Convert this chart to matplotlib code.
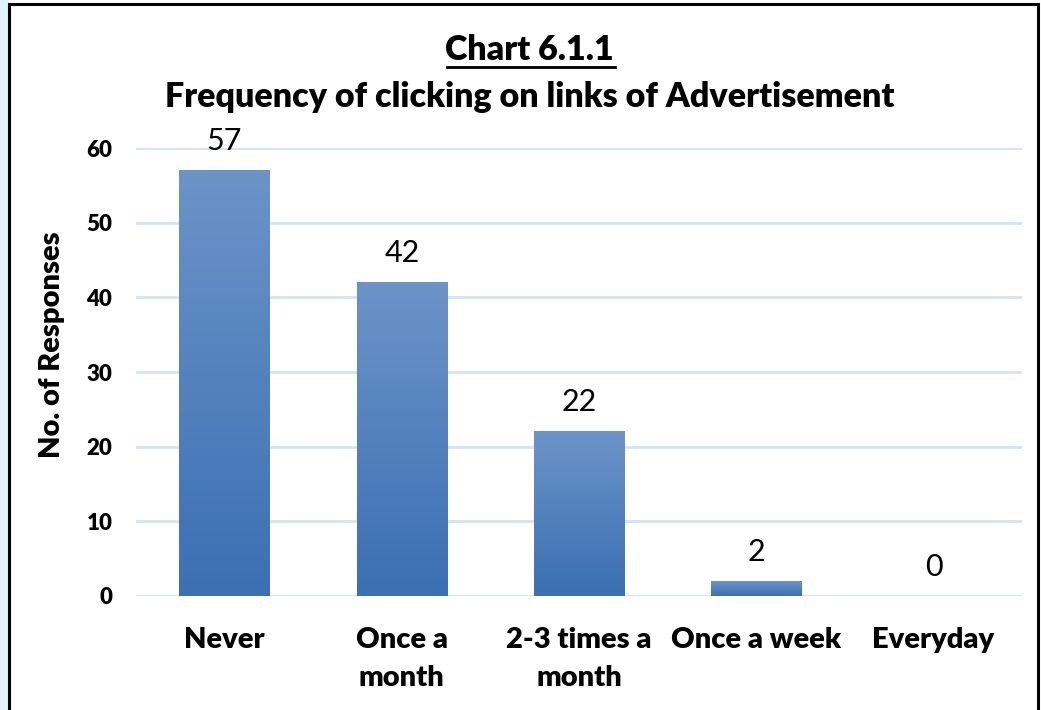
import numpy as np
import matplotlib.pyplot as plt
from matplotlib.colors import LinearSegmentedColormap

categories = ["Never", "Once a\nmonth", "2-3 times a\nmonth", "Once a week", "Everyday"]
responses = [57, 42, 22, 2, 0]
yticks = [0, 10, 20, 30, 40, 50, 60]

plt.rcParams['font.family'] = ['Lato', 'DejaVu Sans']

fig = plt.figure(figsize=(10.41, 7.10), dpi=100)
ax = fig.add_axes([0.1306, 0.1606, 0.8512, 0.6309])

x = np.arange(len(categories))
bars = ax.bar(x, responses, width=0.51, color='none', zorder=3)

# vertical gradient inside each bar, light at top
grad = LinearSegmentedColormap.from_list('g', ['#3b70b3', '#6c93c8'])
for b in bars:
    h = b.get_height()
    if h <= 0:
        continue
    ax.imshow(np.linspace(0, 1, 100).reshape(-1, 1), cmap=grad, aspect='auto',
              origin='lower', extent=[b.get_x(), b.get_x() + b.get_width(), 0, h],
              zorder=3)

for xi, v in zip(x, responses):
    ax.annotate(str(v), (xi, v), xytext=(0, 11), textcoords='offset points',
                ha='center', va='bottom', fontsize=22)

ax.set_xlim(-0.5, len(categories) - 0.5)
ax.set_ylim(0, 60)
ax.set_yticks(yticks)
ax.set_yticklabels([str(t) for t in yticks], fontsize=16, fontweight='heavy')
ax.set_xticks(x)
ax.set_xticklabels(categories, fontsize=21, fontweight='heavy', linespacing=1.58)
ax.tick_params(length=0, axis='y', pad=17)
ax.tick_params(length=0, axis='x', pad=22)
ax.grid(axis='y', color='#d6e1f1', linewidth=2, zorder=0)
ax.set_axisbelow(True)
for s in ax.spines.values():
    s.set_visible(False)
ax.set_ylabel("No. of Responses", fontsize=21, fontweight='heavy')
ax.yaxis.set_label_coords(-0.080, 0.56)

fig.text(0.509, 0.930, "Chart 6.1.1", ha='center', va='center', fontsize=24.5,
         fontweight='heavy')
fig.add_artist(plt.Line2D([0.429, 0.591], [0.906, 0.906], color='black', linewidth=2))
fig.text(0.509, 0.863, "Frequency of clicking on links of Advertisement", ha='center',
         va='center', fontsize=24.5, fontweight='heavy')

# page edge and chart border
fig.patches.append(plt.Rectangle((0, 0), 0.007, 1, transform=fig.transFigure,
                                 color='#dff3f8', zorder=0))
fig.add_artist(plt.Rectangle((0.0085, -0.01), 0.989, 1.005, transform=fig.transFigure,
                             fill=False, edgecolor='black', linewidth=2.2))

fig.savefig('out.png', dpi=100)
